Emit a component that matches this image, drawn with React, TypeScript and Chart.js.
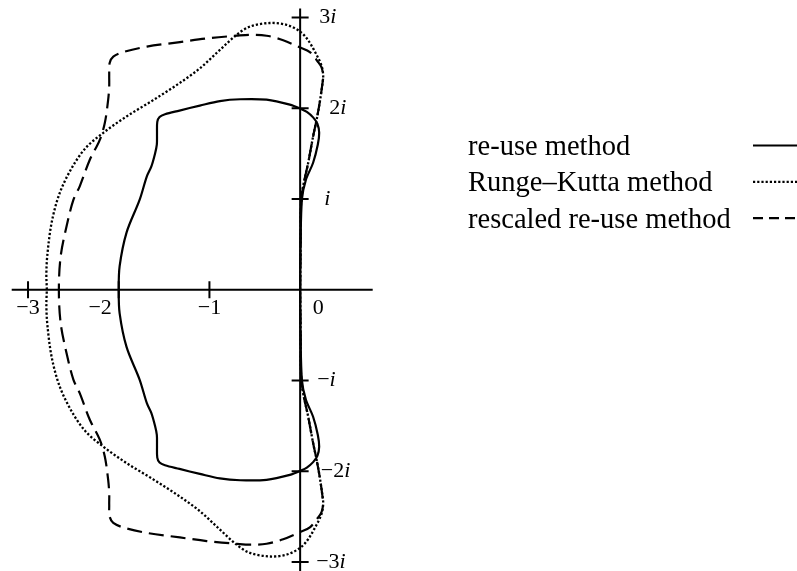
import { useEffect, useRef } from "react";
import { Chart, registerables } from "chart.js";

Chart.register(...registerables);

// Boundary of the stability region of the re-use method (closed curve, Re/Im parts)
const reuseRe = [
  0, 0.005, 0.02, 0.063, 0.143, 0.195, 0.21, 0.19, 0.143, 0.074, 0.015, -0.114, -0.37, -0.66,
  -0.885, -1.106, -1.33, -1.49, -1.55, -1.575, -1.578, -1.58, -1.6, -1.64, -1.69, -1.77, -1.914,
  -1.99, -2.0, -1.99, -1.914, -1.77, -1.69, -1.64, -1.6, -1.58, -1.578, -1.575, -1.55, -1.49, -1.33,
  -1.106, -0.885, -0.66, -0.37, -0.114, 0.015, 0.074, 0.143, 0.19, 0.21, 0.195, 0.143, 0.063, 0.02,
  0.005, 0,
];
const reuseIm = [
  0, 0.5, 1.0, 1.21, 1.4, 1.6, 1.73, 1.83, 1.9, 1.96, 1.99, 2.04, 2.095, 2.1, 2.08, 2.03, 1.975,
  1.935, 1.905, 1.85, 1.72, 1.6, 1.5, 1.36, 1.25, 0.99, 0.63, 0.26, 0, -0.26, -0.63, -0.99, -1.25,
  -1.36, -1.5, -1.6, -1.72, -1.85, -1.905, -1.935, -1.975, -2.03, -2.08, -2.1, -2.095, -2.04, -1.99,
  -1.96, -1.9, -1.83, -1.73, -1.6, -1.4, -1.21, -1.0, -0.5, 0,
];

// Boundary of the stability region of the Runge–Kutta method
const rkRe = [
  0, 0.005, 0.01, 0.033, 0.088, 0.143, 0.181, 0.217, 0.247, 0.254, 0.236, 0.181, 0.088, 0, -0.15,
  -0.334, -0.555, -0.7, -0.92, -1.106, -1.326, -1.62, -1.914, -2.17, -2.363, -2.517, -2.65, -2.738,
  -2.787, -2.798, -2.793, -2.798, -2.787, -2.738, -2.65, -2.517, -2.363, -2.17, -1.914, -1.62,
  -1.326, -1.106, -0.92, -0.7, -0.555, -0.334, -0.15, 0, 0.088, 0.181, 0.236, 0.254, 0.247, 0.217,
  0.181, 0.143, 0.088, 0.033, 0.01, 0.005, 0,
];
const rkIm = [
  0, 0.5, 0.95, 1.14, 1.395, 1.69, 1.87, 2.07, 2.28, 2.36, 2.47, 2.59, 2.75, 2.845, 2.92, 2.94, 2.9,
  2.81, 2.61, 2.44, 2.28, 2.09, 1.91, 1.73, 1.564, 1.344, 1.068, 0.749, 0.385, 0.165, 0, -0.165,
  -0.385, -0.749, -1.068, -1.344, -1.564, -1.73, -1.91, -2.09, -2.28, -2.44, -2.61, -2.81, -2.9,
  -2.94, -2.92, -2.845, -2.75, -2.59, -2.47, -2.36, -2.28, -2.07, -1.87, -1.69, -1.395, -1.14, -0.95,
  -0.5, 0,
];

// Boundary of the stability region of the rescaled re-use method
const rescaledRe = [
  0, 0.005, 0.01, 0.033, 0.088, 0.143, 0.181, 0.217, 0.247, 0.254, 0.236, 0.198, 0.107, 0, -0.187,
  -0.37, -0.555, -0.7, -1.03, -1.326, -1.69, -1.95, -2.06, -2.1, -2.105, -2.105, -2.117, -2.153,
  -2.21, -2.32, -2.43, -2.5, -2.575, -2.64, -2.66, -2.64, -2.575, -2.5, -2.43, -2.32, -2.21, -2.153,
  -2.117, -2.105, -2.105, -2.1, -2.06, -1.95, -1.69, -1.326, -1.03, -0.7, -0.555, -0.37, -0.187, 0,
  0.107, 0.198, 0.236, 0.254, 0.247, 0.217, 0.181, 0.143, 0.088, 0.033, 0.01, 0.005, 0,
];
const rescaledIm = [
  0, 0.5, 0.95, 1.14, 1.395, 1.69, 1.87, 2.07, 2.28, 2.36, 2.45, 2.51, 2.62, 2.67, 2.75, 2.8, 2.81,
  2.8, 2.77, 2.73, 2.68, 2.62, 2.57, 2.5, 2.37, 2.24, 2.09, 1.84, 1.65, 1.43, 1.14, 0.99, 0.7, 0.37,
  0, -0.37, -0.7, -0.99, -1.14, -1.43, -1.65, -1.84, -2.09, -2.24, -2.37, -2.5, -2.57, -2.62, -2.68,
  -2.73, -2.77, -2.8, -2.81, -2.8, -2.75, -2.67, -2.62, -2.51, -2.45, -2.36, -2.28, -2.07, -1.87,
  -1.69, -1.395, -1.14, -0.95, -0.5, 0,
];

// Axis ticks and their labels
const realTicks = [-3, -2, -1];
const realLabelValues = [-3, -2, -1, 0];
const realLabels = ["−3", "−2", "−1", "0"];
const imagTicks = [3, 2, 1, -1, -2, -3];
const imagLabels = ["3", "2", "", "−", "−2", "−3"]; // each followed by an italic i

const legendLabels = ["re-use method", "Runge–Kutta method", "rescaled re-use method"];

const X_MIN = -3.18;
const X_MAX = 0.8;
const Y_MIN = -3.1;
const Y_MAX = 3.1;

const SERIF = '"Liberation Serif", "DejaVu Serif", serif';
const DOT_DASH = [2.2, 2];
const LONG_DASH = [15, 7];

function toPoints(re: number[], im: number[]) {
  return re.map((x, i) => ({ x, y: im[i] }));
}

const complexPlanePlugin = {
  id: "complexPlane",
  beforeDatasetsDraw(chart: any) {
    const { ctx, chartArea, scales } = chart;
    const xs = scales.x;
    const ys = scales.y;
    const x0 = xs.getPixelForValue(0);
    const y0 = ys.getPixelForValue(0);
    ctx.save();
    ctx.strokeStyle = "#000";
    ctx.lineWidth = 2;
    ctx.beginPath();
    ctx.moveTo(chartArea.left, y0);
    ctx.lineTo(chartArea.right, y0);
    ctx.moveTo(x0, chartArea.top);
    ctx.lineTo(x0, chartArea.bottom);
    const half = 8.5;
    realTicks.forEach((v) => {
      const px = xs.getPixelForValue(v);
      ctx.moveTo(px, y0 - half);
      ctx.lineTo(px, y0 + half);
    });
    imagTicks.forEach((v) => {
      const py = ys.getPixelForValue(v);
      ctx.moveTo(x0 - half, py);
      ctx.lineTo(x0 + half, py);
    });
    ctx.stroke();

    // real-axis labels, nudged sideways where a curve would cover them
    const realDx = [0, -18.6, 0, 18];
    ctx.fillStyle = "#000";
    ctx.font = `22px ${SERIF}`;
    ctx.textAlign = "center";
    ctx.textBaseline = "middle";
    realLabels.forEach((t, i) => {
      ctx.fillText(t, xs.getPixelForValue(realLabelValues[i]) + realDx[i], y0 + 18);
    });

    // imaginary-axis labels: upright prefix followed by an italic i
    const imagDx = [19, 29, 24, 17, 20.7, 16];
    ctx.textAlign = "left";
    imagLabels.forEach((t, i) => {
      const py = ys.getPixelForValue(imagTicks[i]);
      let px = x0 + imagDx[i];
      ctx.font = `22px ${SERIF}`;
      if (t) {
        ctx.fillText(t, px, py);
        px += ctx.measureText(t).width;
      }
      ctx.font = `italic 22px ${SERIF}`;
      ctx.fillText("i", px, py);
    });
    ctx.restore();
  },
  afterDraw(chart: any) {
    const { ctx } = chart;
    ctx.save();
    ctx.fillStyle = "#000";
    ctx.strokeStyle = "#000";
    ctx.font = `28.5px ${SERIF}`;
    ctx.textAlign = "left";
    ctx.textBaseline = "alphabetic";
    const styles = [[], DOT_DASH, [10, 6]];
    const widths = [2.2, 2.2, 2.2];
    legendLabels.forEach((t, i) => {
      const cy = 145.5 + i * 36.3;
      ctx.fillText(t, 468, cy + 9.5);
      ctx.setLineDash(styles[i]);
      ctx.lineWidth = widths[i];
      ctx.beginPath();
      ctx.moveTo(753, cy);
      ctx.lineTo(797, cy);
      ctx.stroke();
    });
    ctx.restore();
  },
};

export default function App() {
  const canvasRef = useRef<HTMLCanvasElement | null>(null);

  useEffect(() => {
    const canvas = canvasRef.current;
    if (!canvas) return;
    const lineBase = {
      showLine: true,
      borderColor: "#000",
      pointRadius: 0,
      pointHoverRadius: 0,
      fill: false,
      tension: 0.33,
      borderCapStyle: "butt" as const,
    };
    const chart = new Chart(canvas, {
      type: "scatter",
      data: {
        datasets: [
          { ...lineBase, label: legendLabels[0], data: toPoints(reuseRe, reuseIm), borderWidth: 2.2 },
          {
            ...lineBase,
            label: legendLabels[1],
            data: toPoints(rkRe, rkIm),
            borderWidth: 2.3,
            borderDash: DOT_DASH,
          },
          {
            ...lineBase,
            label: legendLabels[2],
            data: toPoints(rescaledRe, rescaledIm),
            borderWidth: 2.2,
            borderDash: LONG_DASH,
          },
        ],
      },
      options: {
        responsive: false,
        animation: false,
        devicePixelRatio: 1,
        events: [],
        layout: { padding: { left: 11.7, right: 424.3, top: 8.5, bottom: 0 } },
        scales: {
          x: { type: "linear", min: X_MIN, max: X_MAX, display: false },
          y: { type: "linear", min: Y_MIN, max: Y_MAX, display: false },
        },
        plugins: { legend: { display: false }, tooltip: { enabled: false } },
      },
      plugins: [complexPlanePlugin],
    });
    return () => chart.destroy();
  }, []);

  return (
    <div style={{ position: "absolute", left: 0, top: 0, width: 797, height: 571, background: "#fff" }}>
      <canvas ref={canvasRef} width={797} height={571} />
    </div>
  );
}
